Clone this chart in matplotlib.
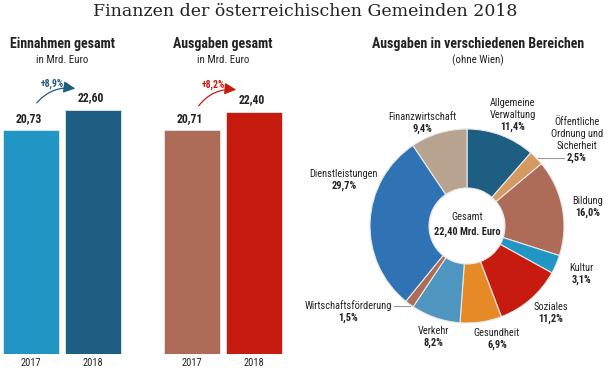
import matplotlib
matplotlib.use("Agg")
import matplotlib.pyplot as plt
from matplotlib import font_manager as fm
from matplotlib.patches import FancyArrowPatch

W, H = 609, 373

# data
years = ["2017", "2018"]
einnahmen = [20.73, 22.60]
ausgaben = [20.71, 22.40]
einnahmen_change = "+8,9%"
ausgaben_change = "+8,2%"

bereiche = ["Allgemeine\nVerwaltung", "Öffentliche\nOrdnung und\nSicherheit", "Bildung", "Kultur",
            "Soziales", "Gesundheit", "Verkehr", "Wirtschaftsförderung", "Dienstleistungen",
            "Finanzwirtschaft"]
anteile = [11.4, 2.5, 16.0, 3.1, 11.2, 6.9, 8.2, 1.5, 29.7, 9.4]
gesamt = 22.40

# styles
col_ein = ["#2196c4", "#1d5e82"]
col_aus = ["#ad6b58", "#c81b0f"]
pie_colors = ["#1d5e82", "#d49a5f", "#ad6b58", "#2196c4", "#c81b0f",
              "#e58a27", "#4e95c0", "#ad6b58", "#2f73b5", "#b8a390"]
# label centres in image pixels (x, y of first line)
label_pos = [(513, 103), (577, 122), (588, 201), (581, 268), (551, 307),
             (497, 333), (433, 331), (348, 306), (344, 174), (422, 117)]

# pick a condensed sans if the machine has one
avail = {(f.name, str(f.stretch)) for f in fm.fontManager.ttflist}
fam, stretch = "Liberation Sans", "normal"
for name, st in [("Roboto Condensed", "normal"), ("Noto Sans", "condensed"),
                 ("DejaVu Sans", "condensed"), ("Open Sans", "condensed")]:
    if any(n == name and (st == "normal" or s == st) for n, s in avail):
        fam, stretch = name, st
        break
plt.rcParams["font.family"] = [fam, "DejaVu Sans"]
plt.rcParams["font.stretch"] = stretch
TXT = "#222222"


def px(x, y):
    return x / W, 1 - y / H


def de(v, nd=2):
    return f"{v:.{nd}f}".replace(".", ",")


fig = plt.figure(figsize=(W / 100, H / 100), dpi=100)

fig.text(*px(305, 11), "Finanzen der österreichischen Gemeinden 2018", ha="center", va="center",
         family="DejaVu Serif", fontsize=12.5, color=TXT)


def bar_panel(left, vals, cols, title, change, arrow_from, arrow_to, change_xy, acol):
    ax = fig.add_axes([left / W, (H - 354) / H, 124 / W, 270 / H])
    ax.bar(range(len(vals)), vals, width=0.9, color=cols, edgecolor="#dfe9ee", linewidth=0.6)
    ax.set_xlim(-0.5, 1.5)
    ax.set_ylim(0, 25)
    for i, v in enumerate(vals):
        ax.annotate(de(v), (i, v), xytext=(-2, 12), textcoords="offset pixels", ha="center",
                    va="center", fontsize=8.5, fontweight="bold", color=TXT)
    ax.set_xticks(range(len(vals)))
    ax.set_xticklabels(years, fontsize=7.5, color=TXT)
    ax.tick_params(length=0, pad=3)
    ax.set_yticks([])
    for s in ax.spines.values():
        s.set_visible(False)
    cx = left + 62
    fig.text(*px(cx, 44), title, ha="center", va="center", fontsize=10, fontweight="bold", color=TXT)
    fig.text(*px(cx, 60), "in Mrd. Euro", ha="center", va="center", fontsize=7.8, color=TXT)
    arr = FancyArrowPatch(px(*arrow_from), px(*arrow_to), transform=fig.transFigure,
                          connectionstyle="arc3,rad=-0.3", arrowstyle="-|>,head_length=7,head_width=3.5",
                          color=acol, lw=0.9)
    fig.add_artist(arr)
    fig.text(*px(*change_xy), change, ha="center", va="center", fontsize=7, fontweight="bold", color=acol)


bar_panel(0, einnahmen, col_ein, "Einnahmen gesamt", einnahmen_change, (35, 105), (78, 89), (52, 84), "#1d5e82")
bar_panel(161, ausgaben, col_aus, "Ausgaben gesamt", ausgaben_change, (197, 108), (239, 90), (213, 85), "#c81b0f")

# donut
fig.text(*px(478, 44), "Ausgaben in verschiedenen Bereichen", ha="center", va="center",
         fontsize=10, fontweight="bold", color=TXT)
fig.text(*px(478, 60), "(ohne Wien)", ha="center", va="center", fontsize=7.8, color=TXT)

cx, cy = 467, 226
axp = fig.add_axes([(cx - 150) / W, (H - cy - 150) / H, 300 / W, 300 / H])
axp.pie(anteile, colors=pie_colors, startangle=90, counterclock=False, radius=97,
        wedgeprops=dict(width=59, edgecolor="#e8e8e8", linewidth=0.8))
axp.set_xlim(-150, 150)
axp.set_ylim(-150, 150)
axp.set_aspect("auto")
axp.axis("off")

for name, v, (lx, ly) in zip(bereiche, anteile, label_pos):
    lines = name.split("\n")
    for i, line in enumerate(lines):
        fig.text(*px(lx, ly + 12 * i), line, ha="center", va="center", fontsize=7.5, color=TXT)
    fig.text(*px(lx, ly + 12 * len(lines)), de(v, 1) + "%", ha="center", va="center",
             fontsize=7.5, fontweight="bold", color=TXT)

fig.add_artist(plt.Line2D([538 / W, 564 / W], [1 - 158 / H, 1 - 158 / H], color="#999999", lw=0.8))
fig.add_artist(plt.Line2D([394 / W, 410 / W], [1 - 306 / H, 1 - 306 / H], color="#999999", lw=0.8))

fig.text(*px(cx, 217), "Gesamt", ha="center", va="center", fontsize=7.5, color=TXT)
fig.text(*px(cx, 232), de(gesamt) + " Mrd. Euro", ha="center", va="center", fontsize=7.5,
         fontweight="bold", color=TXT)

fig.savefig("out.png", dpi=100)
